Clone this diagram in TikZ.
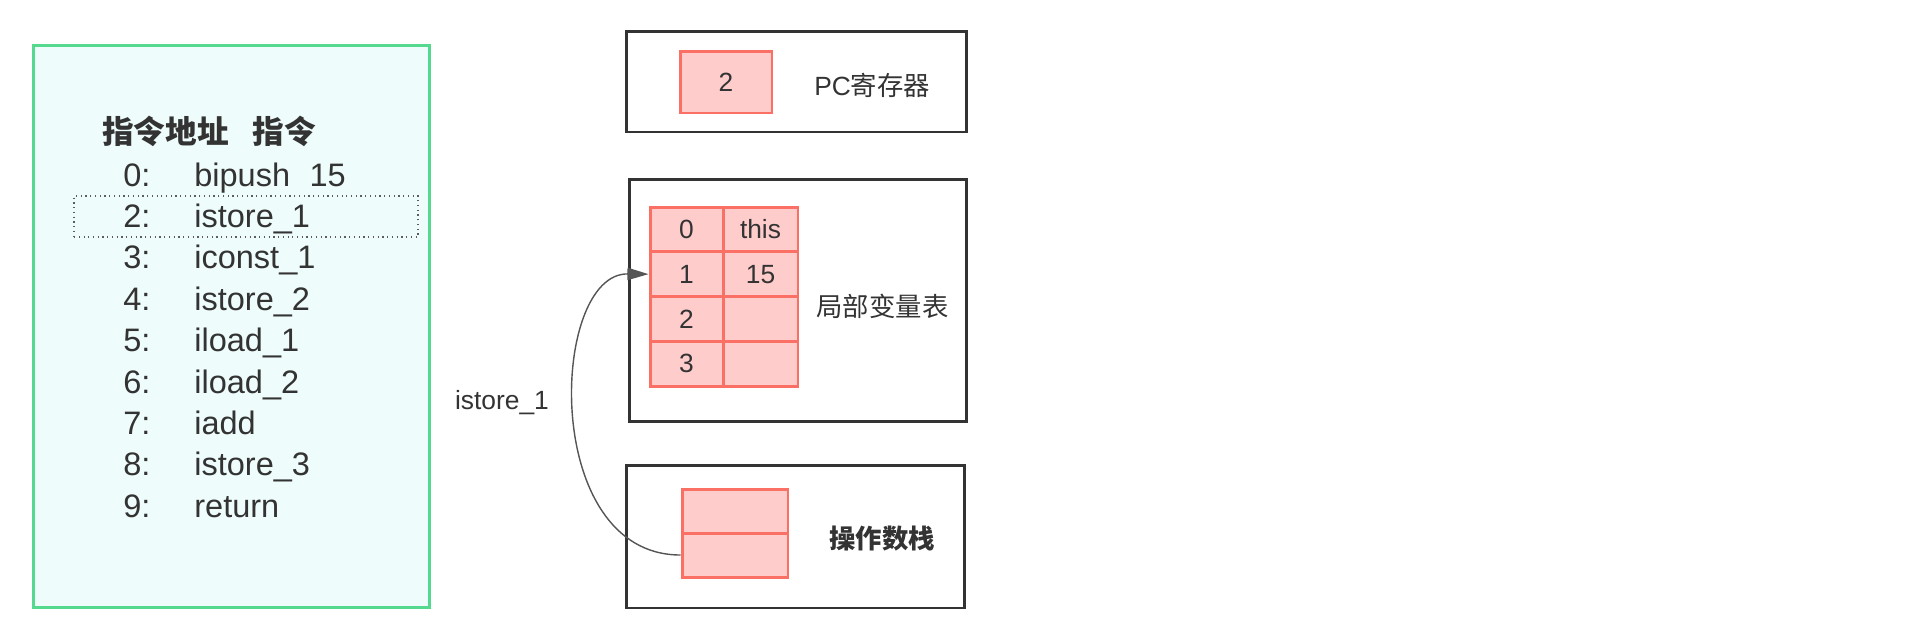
\documentclass[tikz,border=0pt]{standalone}
\usepackage{fontspec}
\setmainfont{Liberation Sans}
\newfontfamily\cjk{Noto Sans CJK SC}
\usetikzlibrary{arrows.meta}
\definecolor{ink}{HTML}{333333}
\definecolor{codegreen}{HTML}{55D98E}
\definecolor{codebg}{HTML}{EEFDFB}
\definecolor{cellred}{HTML}{FA7064}
\definecolor{cellpink}{HTML}{FFCCCC}
\definecolor{arrowgray}{HTML}{555555}

\begin{document}
\begin{tikzpicture}[x=0.02cm, y=-0.02cm, text=ink,
  codebox/.style={draw=codegreen, fill=codebg, line width=1.7pt,
                  minimum width=7.94cm, minimum height=11.26cm},
  area/.style={draw=ink, line width=1.7pt, inner sep=0pt},
  cell/.style={draw=cellred, fill=cellpink, line width=1.7pt, inner sep=0pt,
               font=\fontsize{15}{18}\selectfont},
  code/.style={anchor=base west, inner sep=0pt, font=\fontsize{18.5}{22}\selectfont},
  lbl/.style={font=\cjk\fontsize{15}{18}\selectfont, inner sep=0pt},
  flow/.style={-{Triangle[length=12pt, width=7pt]}, arrowgray, line width=0.8pt}]
  \useasboundingbox (0,0) rectangle (1922,640);
  % Instruction list
  \node[codebox] (code) at (231.5,326.5) {};
  \node[draw=ink!80, dotted, line width=0.7pt, minimum width=6.88cm,
        minimum height=0.82cm] (cur-row) at (246,216.5) {};
  \node[code, font=\cjk\bfseries\fontsize{18}{22}\selectfont] (head) at (102,143)
    {指令地址\hspace{0.75em}指令};
  \foreach \addr/\ins [count=\i from 0] in {0/bipush\hspace{0.6em}15, 2/istore\_1,
      3/iconst\_1, 4/istore\_2, 5/iload\_1, 6/iload\_2, 7/iadd, 8/istore\_3, 9/return} {
    \node[code] (addr-\i) at (123,{186+41.4*\i}) {\addr:};
    \node[code] (ins-\i) at (194,{186+41.4*\i}) {\ins};
  }
  % PC register
  \node[area, minimum width=6.82cm, minimum height=2.02cm] (pc-area) at (796.5,81.5) {};
  \node[cell, minimum width=1.84cm, minimum height=1.24cm] (pc-val) at (726,82) {2};
  \node[lbl, anchor=west] (pc-lbl) at (814,85) {{\rmfamily PC}寄存器};
  % Local variable table
  \node[area, minimum width=6.76cm, minimum height=4.86cm] (lv-area) at (798,300.5) {};
  \foreach \idx/\val [count=\r from 0] in {0/this, 1/15, 2/, 3/} {
    \node[cell, minimum width=1.46cm, minimum height=0.895cm] (lv-\r-idx)
      at (686.5,{229.4+44.75*\r}) {\idx};
    \node[cell, minimum width=1.5cm, minimum height=0.895cm] (lv-\r-val)
      at (760.5,{229.4+44.75*\r}) {\val};
  }
  \node[lbl] (lv-lbl) at (882.5,306) {局部变量表};
  % Operand stack
  \node[area, minimum width=6.78cm, minimum height=2.86cm] (st-area) at (795.5,536.5) {};
  \node[cell, minimum width=2.12cm, minimum height=0.88cm] (st-0) at (735,511) {};
  \node[cell, minimum width=2.12cm, minimum height=0.88cm] (st-1) at (735,555) {};
  \node[lbl, font=\cjk\bfseries\fontsize{15}{18}\selectfont] (st-lbl) at (882,539) {操作数栈};
  % istore_1 moves the top of the stack into slot 1
  \draw[flow] (st-1.west) .. controls (540,555) and (550,273) .. (lv-1-idx.west);
  \node[inner sep=0pt, font=\fontsize{15}{18}\selectfont] (flow-lbl) at (502,403) {istore\_1};
\end{tikzpicture}
\end{document}
